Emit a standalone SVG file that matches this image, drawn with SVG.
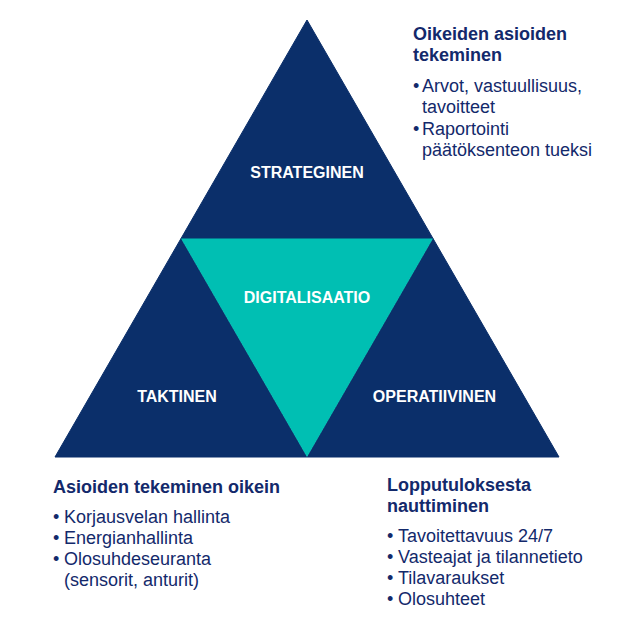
<svg xmlns="http://www.w3.org/2000/svg" width="625" height="625" viewBox="0 0 625 625">
<style>
.navy{fill:#0b2f6a;stroke:#0b2f6a;stroke-width:1}
.teal{fill:#00bfb3}
.lbl{font-family:"Liberation Sans",Arial,sans-serif;font-weight:bold;font-size:16px;fill:#ffffff;text-anchor:middle;stroke:#0b2f6a;stroke-width:0.6;paint-order:stroke}
.h{font-family:"Liberation Sans",Arial,sans-serif;font-weight:bold;font-size:18px;fill:#13296b}
.b{font-family:"Liberation Sans",Arial,sans-serif;font-size:18px;fill:#13296b}
</style>
<rect width="625" height="625" fill="#ffffff"/>
<g id="strateginen">
<polygon class="navy" points="307,20 181,238.5 433,238.5"/>
<text class="lbl" x="307" y="178">STRATEGINEN</text>
</g>
<g id="taktinen">
<polygon class="navy" points="181,238.5 55,457 307,457"/>
<text class="lbl" x="177" y="402">TAKTINEN</text>
</g>
<g id="operatiivinen">
<polygon class="navy" points="433,238.5 307,457 559,457"/>
<text class="lbl" x="434.5" y="402">OPERATIIVINEN</text>
</g>
<g id="digitalisaatio">
<polygon class="teal" points="181,238.5 433,238.5 307,457"/>
<text class="lbl" x="307" y="303" style="stroke:#00bfb3">DIGITALISAATIO</text>
</g>
<g id="connectors"></g>
<g id="text-top-right">
<text class="h" x="413" y="40">Oikeiden asioiden</text>
<text class="h" x="413" y="61">tekeminen</text>
<text class="b" x="413" y="92">•</text><text class="b" x="422" y="92">Arvot, vastuullisuus,</text>
<text class="b" x="422" y="113">tavoitteet</text>
<text class="b" x="413" y="135">•</text><text class="b" x="422" y="135">Raportointi</text>
<text class="b" x="422" y="156">päätöksenteon tueksi</text>
</g>
<g id="text-bottom-left">
<text class="h" x="53" y="493">Asioiden tekeminen oikein</text>
<text class="b" x="53" y="523">•</text><text class="b" x="64" y="523">Korjausvelan hallinta</text>
<text class="b" x="53" y="544">•</text><text class="b" x="64" y="544">Energianhallinta</text>
<text class="b" x="53" y="565">•</text><text class="b" x="64" y="565">Olosuhdeseuranta</text>
<text class="b" x="64" y="586">(sensorit, anturit)</text>
</g>
<g id="text-bottom-right">
<text class="h" x="387" y="491">Lopputuloksesta</text>
<text class="h" x="387" y="512">nauttiminen</text>
<text class="b" x="387" y="542">•</text><text class="b" x="398" y="542">Tavoitettavuus 24/7</text>
<text class="b" x="387" y="563">•</text><text class="b" x="398" y="563">Vasteajat ja tilannetieto</text>
<text class="b" x="387" y="584">•</text><text class="b" x="398" y="584">Tilavaraukset</text>
<text class="b" x="387" y="605">•</text><text class="b" x="398" y="605">Olosuhteet</text>
</g>
</svg>
